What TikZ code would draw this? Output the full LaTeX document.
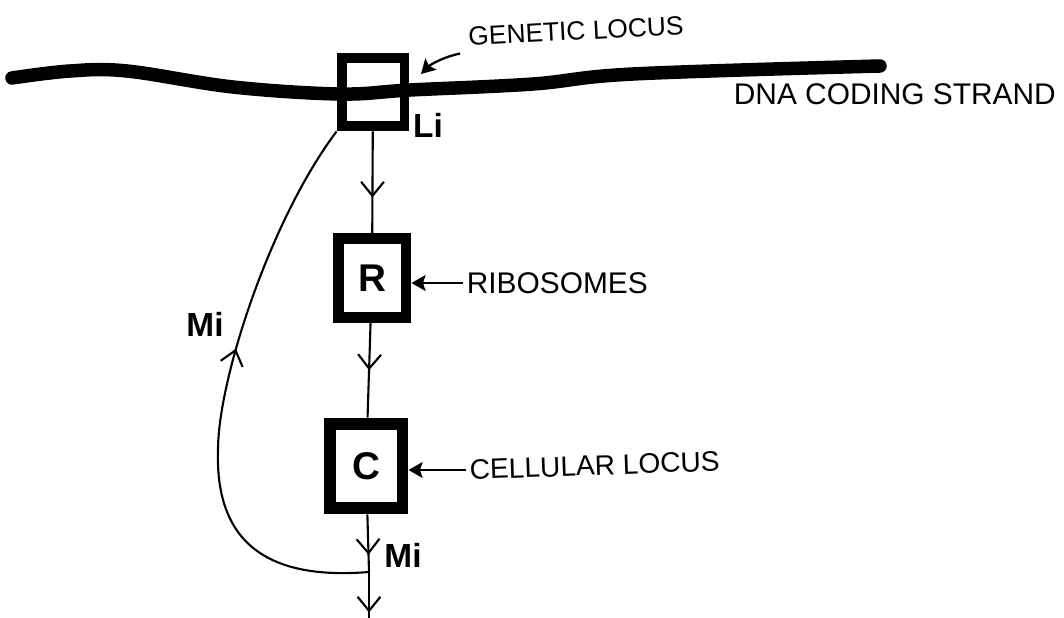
\documentclass[tikz,border=0pt]{standalone}
\usepackage{fontspec}
\setmainfont{Liberation Sans}
\usetikzlibrary{arrows.meta,decorations.markings}

\tikzset{
  locus/.style={draw, line width=#1, inner sep=0pt},
  flow/.style={line width=1.2pt, postaction={decorate},
    decoration={markings, mark=at position #1 with {\arrow{Straight Barb[length=8pt,width=13pt]}}}},
  pointer/.style={line width=1.3pt, -{Stealth[length=8pt,width=9pt,inset=1.5pt]}},
  tag/.style={font=\fontsize{16}{16}\selectfont, inner sep=2pt},
  sym/.style={font=\fontsize{19}{19}\selectfont\bfseries, inner sep=0pt},
}

\begin{document}
\begin{tikzpicture}[x=0.02cm, y=-0.02cm]
	\useasboundingbox (0,0) rectangle (1064,618);

	%strand
	\draw[line width=0.27cm, line cap=round] plot[smooth, tension=0.6] coordinates {(12,78) (70,71) (127,71) (233,87) (340,94) (410,90) (533,84) (633,74) (880,66)};

	%boxes
	\node[locus=0.2cm, minimum width=1.26cm, minimum height=1.38cm] (gl) at (373,92) {};
	\node[locus=0.22cm, minimum width=1.36cm, minimum height=1.58cm, font=\fontsize{22}{22}\selectfont\bfseries] (R) at (372,278) {R};
	\node[locus=0.24cm, minimum width=1.46cm, minimum height=1.7cm, font=\fontsize{22}{22}\selectfont\bfseries] (C) at (366,466) {C};

	%labels
	\node[tag, font=\fontsize{15}{15}\selectfont, rotate=3] (gltext) at (576,31) {GENETIC LOCUS};
	\node[tag, font=\fontsize{17}{17}\selectfont, anchor=west] (dna) at (730,94) {DNA CODING STRAND};
	\node[tag, font=\fontsize{17}{17}\selectfont, anchor=west] (rib) at (463,283) {RIBOSOMES};
	\node[tag, anchor=west, rotate=2] (cell) at (466,470) {CELLULAR LOCUS};
	\node[sym] (li) at (428,125) {Li};
	\node[sym] (mleft) at (205,324) {Mi};
	\node[sym] (mbot) at (403,555) {Mi};

	\coordinate (J) at (369,572);
	\coordinate (out) at (369,618);
	\coordinate (gltip) at (421,74);

	%flow
	\draw[flow=0.65] (gl) -- (R);
	\draw[flow=0.5] (R) -- (C);
	\draw[flow=0.7] (C) -- (J);
	\draw[flow=0.88] (J) -- (out);
	\draw[flow=0.58] (J) .. controls (270,580) and (215,545) .. (218,450) .. controls (218,380) and (270,220) .. (gl.south west);

	%pointers
	\draw[pointer] ([xshift=-3pt,yshift=-2pt]gltext.south west) .. controls +(-15,3) and +(10,-10) .. (gltip);
	\draw[pointer] (rib.west) -- (rib.west -| R.east);
	\draw[pointer] (cell.west) -- (cell.west -| C.east);
\end{tikzpicture}
\end{document}
